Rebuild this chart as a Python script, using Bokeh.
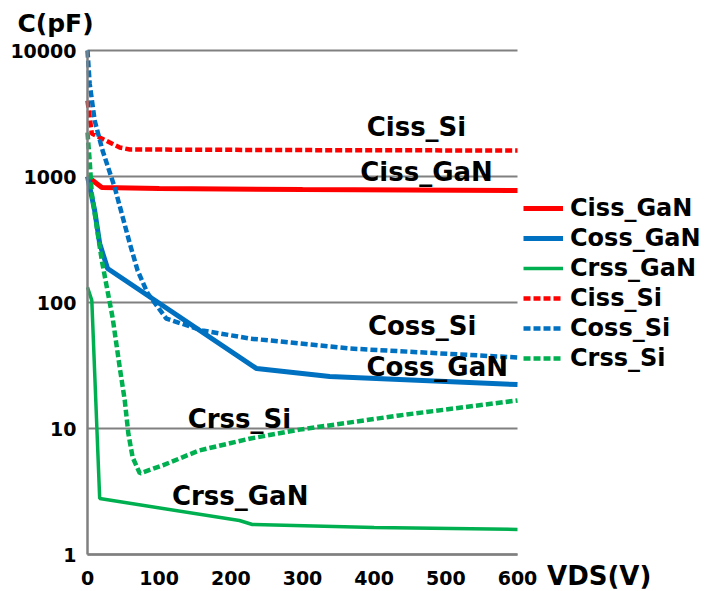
import math
from bokeh.plotting import figure
from bokeh.models import Range1d, FixedTicker, NumeralTickFormatter, Label, Legend, LegendItem
from bokeh.embed import file_html
from bokeh.resources import INLINE

# ---- data ----
x_ticks = [0, 100, 200, 300, 400, 500, 600]
y_ticks = [1, 10, 100, 1000, 10000]

ciss_gan_x = [0, 20, 100, 300, 600]
ciss_gan_y = [1000, 818, 803, 788, 774]

coss_gan_x = [0, 10, 17, 28, 236, 338, 600]
coss_gan_y = [1000, 537, 294, 186, 29.9, 25.9, 22.3]

crss_gan_x = [0, 6, 17, 212, 230, 400, 600]
crss_gan_y = [132, 104, 2.78, 1.86, 1.73, 1.64, 1.58]

ciss_si_x = [0, 6, 17, 45, 59, 300, 600]
ciss_si_y = [4000, 2195, 2040, 1700, 1638, 1620, 1607]

coss_si_x = [0, 3, 10, 21, 38, 59, 70, 84, 110, 160, 226, 296, 366, 600]
coss_si_y = [10000, 5470, 2780, 1608, 818, 294, 179, 118, 74.6, 60, 51.8, 47.3, 43.1, 36.6]

crss_si_x = [0, 3, 6, 13, 20, 27, 35, 45, 52, 57, 63, 73, 105, 156, 226, 296, 435, 600]
crss_si_y = [2235, 1340, 733, 393, 215, 132, 76, 30.5, 16.7, 9.1, 5.9, 4.4, 5.1, 6.7, 8.3, 9.8, 12.7, 16.7]

series_names = ["Ciss_GaN", "Coss_GaN", "Crss_GaN", "Ciss_Si", "Coss_Si", "Crss_Si"]

RED, BLUE, GREEN = "#FF0000", "#0070C0", "#00B050"
FONT = "DejaVu Sans"

W, H = 723, 591
# plot area in pixels: x 0..600 -> 87..517 ; y 1..10000 -> 554..50
PX_L, PX_R, PY_B, PY_T = 87, 517, 554, 50
kx = (PX_R - PX_L) / 600.0
ky = (PY_B - PY_T) / 4.0
x_range = Range1d(-PX_L / kx, (W - PX_L) / kx)
y_range = Range1d(10 ** (-(H - PY_B) / ky), 10 ** (PY_B / ky))

p = figure(width=W, height=H, x_range=x_range, y_range=y_range,
           y_axis_type="log", output_backend="svg", toolbar_location=None)
p.min_border = 0
p.min_border_left = 0
p.min_border_right = 0
p.min_border_top = 0
p.min_border_bottom = 0
p.title.visible = False
p.outline_line_color = None
p.background_fill_color = "white"
p.border_fill_color = "white"

# axes drawn inside the frame at the data origin
p.xaxis.fixed_location = 1
p.yaxis.fixed_location = 0
p.xaxis.bounds = (0, 600)
p.yaxis.bounds = (1, 10000)
p.xaxis.ticker = FixedTicker(ticks=x_ticks, minor_ticks=[])
p.yaxis.ticker = FixedTicker(ticks=y_ticks, minor_ticks=[])
p.yaxis.formatter = NumeralTickFormatter(format="0")
for ax in (p.xaxis, p.yaxis):
    ax.major_tick_line_color = None
    ax.minor_tick_line_color = None
    ax.axis_line_color = "#808080"
    ax.axis_line_width = 2.5
    ax.major_label_text_font = FONT
    ax.major_label_text_font_style = "bold"
    ax.major_label_text_font_size = "19px"
    ax.major_label_text_color = "black"
p.xaxis.major_label_standoff = 10
p.yaxis.major_label_standoff = 5

p.xgrid.visible = False
grid = p.ygrid[0]
if "cross_bounds" in grid.properties():
    grid.cross_bounds = (0, 600)
    grid.grid_line_color = "#808080"
    grid.grid_line_width = 2
else:
    grid.visible = False
    p.segment(x0=[x_ticks[0]] * len(y_ticks), y0=y_ticks, x1=[x_ticks[-1]] * len(y_ticks),
              y1=y_ticks, line_color="#808080", line_width=2)

dash = "7 3"
r_ciss_gan = p.line(ciss_gan_x, ciss_gan_y, line_color=RED, line_width=5)
r_coss_gan = p.line(coss_gan_x, coss_gan_y, line_color=BLUE, line_width=5)
r_crss_gan = p.line(crss_gan_x, crss_gan_y, line_color=GREEN, line_width=3.5)
r_ciss_si = p.line(ciss_si_x, ciss_si_y, line_color=RED, line_width=4.5, line_dash=dash)
r_coss_si = p.line(coss_si_x, coss_si_y, line_color=BLUE, line_width=4.5, line_dash=dash)
r_crss_si = p.line(crss_si_x, crss_si_y, line_color=GREEN, line_width=4.5, line_dash=dash)

renderers = [r_ciss_gan, r_coss_gan, r_crss_gan, r_ciss_si, r_coss_si, r_crss_si]
items = [LegendItem(label=n, renderers=[r]) for n, r in zip(series_names, renderers)]

legend = Legend(items=items, location=(523, 218))
legend.padding = 0
legend.margin = 0
legend.spacing = 0
legend.glyph_width = 40
legend.glyph_height = 30
legend.label_height = 30
legend.label_standoff = 7
legend.border_line_alpha = 0
legend.background_fill_alpha = 0
legend.label_text_font = FONT
legend.label_text_font_style = "bold"
legend.label_text_font_size = "24px"
legend.label_text_color = "black"
p.add_layout(legend, "center")

def add_label(text, x, y, size="26px"):
    p.add_layout(Label(x=x, y=y, text=text, text_font=FONT, text_font_style="bold",
                       text_font_size=size, text_color="black",
                       text_align="center", text_baseline="middle"))

add_label("Ciss_Si", 459, 2450)
add_label("Ciss_GaN", 473, 1076)
add_label("Coss_Si", 467, 64.5)
add_label("Coss_GaN", 488, 30.5)
add_label("Crss_Si", 212, 11.8)
add_label("Crss_GaN", 213, 2.89)
add_label("C(pF)", -44.6, 16370, "25px")
add_label("VDS(V)", 714, 0.669, "26px")

open("out.html", "w").write(file_html(p, INLINE))
